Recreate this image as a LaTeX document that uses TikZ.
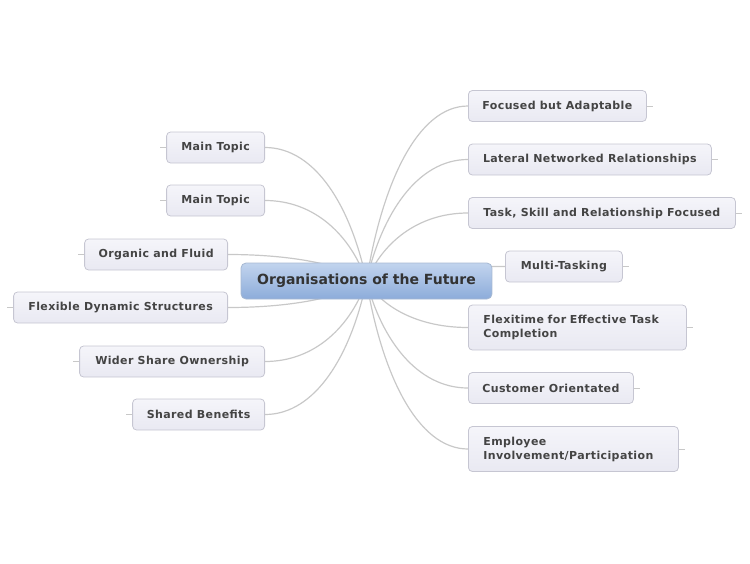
\documentclass[tikz,border=0pt]{standalone}
\usepackage{fontspec}
\setmainfont{DejaVu Sans}
\newfontfamily\topicfont[LetterSpace=3.5]{DejaVu Sans Bold}
\newfontfamily\centralfont{DejaVu Sans Bold}
\usetikzlibrary{calc,backgrounds}
\definecolor{txt}{HTML}{444444}
\definecolor{ctxt}{HTML}{333333}
\definecolor{tborder}{HTML}{C6C6D2}
\definecolor{ttop}{HTML}{F5F5FA}
\definecolor{tbot}{HTML}{E9E9F2}
\definecolor{ctop}{HTML}{C2D4EE}
\definecolor{cbot}{HTML}{8CACDA}
\definecolor{cborder}{HTML}{A6B8D2}
\definecolor{conn}{HTML}{C8C8C8}
\tikzset{
  topic/.style={draw=tborder, line width=0.8pt, rounded corners=4pt,
    top color=ttop, bottom color=tbot, minimum height=31pt,
    font=\topicfont\fontsize{11}{14}\selectfont, text=txt, inner sep=0pt},
  twoline/.style={topic, align=left, minimum height=45pt},
  central/.style={draw=cborder, line width=0.8pt, rounded corners=5pt,
    top color=ctop, bottom color=cbot, minimum width=251pt, minimum height=36pt,
    font=\centralfont\fontsize{14}{16}\selectfont, text=ctxt, inner sep=0pt},
  link/.style={draw=conn, line width=1.2pt},
  stub/.style={draw=conn, line width=0.6pt}
}
\newcommand{\curvelink}[2]{%
  \draw[link] let \p1=(#1.center), \p2=(#2) in (\p1) .. controls ({\x1+0.15*(\x2-\x1)},{\y1+0.55*(\y2-\y1)}) and ({0.5*(\x1+\x2)},\y2) .. (\p2);}
\begin{document}
\begin{tikzpicture}[x=1pt,y=-1pt]
\useasboundingbox (0,0) rectangle (750,563);
\node[central] (c) at (366.5,281) {Organisations of the Future};
% right
\node[topic, anchor=west, minimum width=178pt] (r1) at (468,106) {Focused but Adaptable};
\node[topic, anchor=west, minimum width=243pt] (r2) at (468,159.5) {Lateral Networked Relationships};
\node[topic, anchor=west, minimum width=267pt] (r3) at (468,213) {Task, Skill and Relationship Focused};
\node[topic, anchor=west, minimum width=117pt] (r4) at (505,266.5) {Multi-Tasking};
\node[twoline, anchor=west, minimum width=218pt, text width=188pt] (r5) at (468,327.5) {Flexitime for Effective Task\\Completion};
\node[topic, anchor=west, minimum width=165pt] (r6) at (468,388) {Customer Orientated};
\node[twoline, anchor=west, minimum width=210pt, text width=180pt] (r7) at (468,449) {Employee\\Involvement/Participation};
% left
\node[topic, anchor=east, minimum width=98pt] (l1) at (265,147.5) {Main Topic};
\node[topic, anchor=east, minimum width=98pt] (l2) at (265,200.5) {Main Topic};
\node[topic, anchor=east, minimum width=143pt] (l3) at (228,254.5) {Organic and Fluid};
\node[topic, anchor=east, minimum width=214pt] (l4) at (228,307.5) {Flexible Dynamic Structures};
\node[topic, anchor=east, minimum width=185pt] (l5) at (265,361.5) {Wider Share Ownership};
\node[topic, anchor=east, minimum width=132pt] (l6) at (265,414.5) {Shared Benefits};
\begin{scope}[on background layer]
  \foreach \nd in {r1,r2,r3,r4,r5,r6,r7} {\curvelink{c}{\nd.west}}
  \foreach \nd in {l1,l2,l3,l4,l5,l6} {\curvelink{c}{\nd.east}}
  \foreach \nd in {r1,r2,r3,r4,r5,r6,r7} {\draw[stub] (\nd.east) -- ++(6,0);}
  \foreach \nd in {l1,l2,l3,l4,l5,l6} {\draw[stub] (\nd.west) -- ++(-6,0);}
\end{scope}
\end{tikzpicture}
\end{document}
